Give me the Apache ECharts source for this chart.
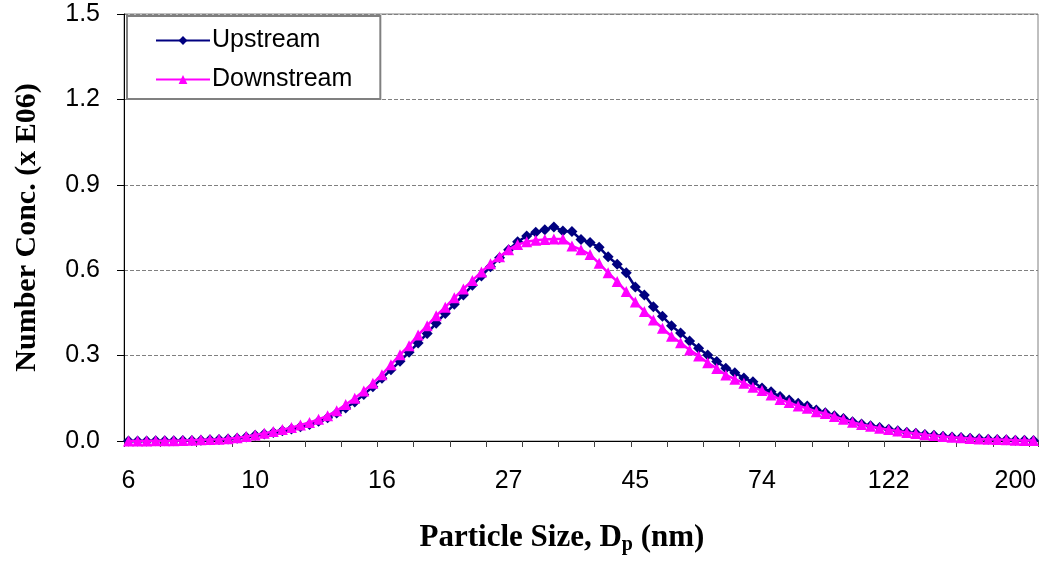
<!DOCTYPE html>
<html>
<head>
<meta charset="utf-8">
<script src="https://cdn.jsdelivr.net/npm/echarts@6/dist/echarts.min.js"></script>
<style>
html,body{margin:0;padding:0;background:#fff;}
#chart{width:1041px;height:564px;}
</style>
</head>
<body>
<div id="chart"></div>
<script>
// Particle size channel midpoints (nm)
const sizes = [5.94,6.16,6.38,6.62,6.86,7.11,7.37,7.64,7.92,8.21,
8.51,8.82,9.15,9.48,9.83,10.19,10.56,10.95,11.35,11.77,
12.20,12.64,13.11,13.59,14.08,14.60,15.13,15.69,16.26,16.86,
17.48,18.12,18.78,19.47,20.18,20.92,21.69,22.48,23.31,24.16,
25.05,25.96,26.91,27.90,28.92,29.98,31.08,32.22,33.40,34.62,
35.89,37.20,38.57,39.98,41.44,42.96,44.54,46.17,47.86,49.61,
51.43,53.32,55.27,57.29,59.40,61.57,63.83,66.17,68.59,71.10,
73.71,76.41,79.21,82.11,85.12,88.24,91.47,94.82,98.30,101.9,
105.6,109.5,113.5,117.7,122.0,126.5,131.1,135.9,140.9,146.0,
151.4,156.9,162.7,168.6,174.8,181.2,187.8,193.8,200.0,207.3,
214.9];

// Number concentration (x E06)
const upstream = [0.000,0.000,0.000,0.001,0.001,0.001,0.002,0.002,0.003,0.004,
0.005,0.007,0.010,0.014,0.020,0.025,0.030,0.036,0.042,0.050,
0.058,0.069,0.082,0.098,0.116,0.137,0.163,0.191,0.220,0.250,
0.280,0.312,0.344,0.378,0.414,0.448,0.480,0.513,0.547,0.580,
0.612,0.644,0.672,0.700,0.720,0.733,0.742,0.752,0.738,0.736,
0.708,0.697,0.681,0.647,0.621,0.591,0.541,0.513,0.472,0.438,
0.405,0.379,0.351,0.326,0.302,0.279,0.256,0.240,0.221,0.208,
0.186,0.173,0.156,0.144,0.133,0.123,0.109,0.099,0.089,0.079,
0.068,0.060,0.054,0.047,0.041,0.036,0.031,0.027,0.023,0.020,
0.017,0.014,0.012,0.010,0.008,0.006,0.005,0.004,0.003,0.003,
0.002];

const downstream = [0.000,0.000,0.000,0.001,0.001,0.001,0.002,0.003,0.004,0.005,
0.006,0.008,0.011,0.016,0.021,0.027,0.033,0.040,0.047,0.056,
0.065,0.076,0.089,0.106,0.128,0.150,0.176,0.203,0.233,0.268,
0.303,0.335,0.372,0.405,0.440,0.470,0.503,0.534,0.564,0.594,
0.623,0.647,0.672,0.690,0.700,0.705,0.708,0.710,0.710,0.685,
0.672,0.655,0.624,0.591,0.560,0.525,0.488,0.455,0.425,0.396,
0.368,0.345,0.320,0.299,0.275,0.255,0.232,0.217,0.203,0.189,
0.177,0.162,0.146,0.135,0.123,0.115,0.103,0.097,0.086,0.076,
0.066,0.058,0.052,0.045,0.040,0.035,0.030,0.026,0.022,0.019,
0.016,0.013,0.011,0.009,0.007,0.006,0.005,0.004,0.003,0.002,
0.002];

const seriesNames = ['Upstream', 'Downstream'];
const yTicks = [0, 0.3, 0.6, 0.9, 1.2, 1.5];

const chart = echarts.init(document.getElementById('chart'), null, {renderer: 'canvas'});
const sans = 'Liberation Sans, Arial, sans-serif';
const serif = 'Liberation Serif, Times New Roman, serif';

chart.setOption({
  animation: false,
  backgroundColor: '#ffffff',
  grid: {
    left: 124, right: 3, top: 14, bottom: 123,
    show: true, borderColor: '#808080', borderWidth: 1, backgroundColor: 'transparent'
  },
  legend: {
    orient: 'vertical',
    left: 127, top: 16,
    data: seriesNames,
    backgroundColor: '#ffffff',
    borderColor: '#808080',
    borderWidth: 2,
    borderRadius: 0,
    padding: [12, 28, 7, 28],
    itemWidth: 54,
    itemHeight: 11,
    itemGap: 14,
    textStyle: {fontFamily: sans, fontSize: 25, color: '#000', padding: [0,0,0,-3]}
  },
  xAxis: {
    type: 'category',
    data: sizes.map(String),
    boundaryGap: true,
    axisLine: {lineStyle: {color: '#000', width: 1}},
    axisTick: {show: true, interval: 3, length: 6, lineStyle: {color: '#404040'}},
    axisLabel: {
      interval: 13,
      margin: 28,
      fontFamily: sans, fontSize: 25, color: '#000',
      formatter: v => String(Math.round(Number(v)))
    },
    splitLine: {show: false},
    name: 'Particle Size, D{sub|p} (nm)',
    nameLocation: 'middle',
    nameGap: 80,
    nameTextStyle: {
      fontFamily: serif, fontSize: 31, fontWeight: 'bold', color: '#000',
      padding: [0, 38, 0, 0],
      rich: {
        sub: {fontFamily: serif, fontSize: 20, fontWeight: 'bold', color: '#000', padding: [14, 0, 0, 0]}
      }
    }
  },
  yAxis: {
    type: 'value',
    min: yTicks[0], max: yTicks[yTicks.length - 1], interval: 0.3,
    axisLine: {show: true, lineStyle: {color: '#000', width: 1}},
    axisTick: {show: true, length: 7, lineStyle: {color: '#000'}},
    axisLabel: {
      margin: 24, fontFamily: sans, fontSize: 25, color: '#000',
      formatter: v => Number(v).toFixed(1)
    },
    splitLine: {show: true, lineStyle: {color: '#808080', type: 'dashed', width: 1}},
    name: 'Number Conc. (x E06)',
    nameLocation: 'middle',
    nameGap: 82,
    nameTextStyle: {fontFamily: serif, fontSize: 30, fontWeight: 'bold', color: '#000'}
  },
  series: [
    {
      name: seriesNames[0], type: 'line', data: upstream,
      symbol: 'diamond', symbolSize: 11, showAllSymbol: true,
      itemStyle: {color: '#000080'},
      lineStyle: {color: '#000080', width: 2.5},
      z: 2
    },
    {
      name: seriesNames[1], type: 'line', data: downstream,
      symbol: 'triangle', symbolSize: 11, showAllSymbol: true,
      itemStyle: {color: '#FF00FF'},
      lineStyle: {color: '#FF00FF', width: 2.5},
      z: 3
    }
  ]
});
</script>
</body>
</html>
